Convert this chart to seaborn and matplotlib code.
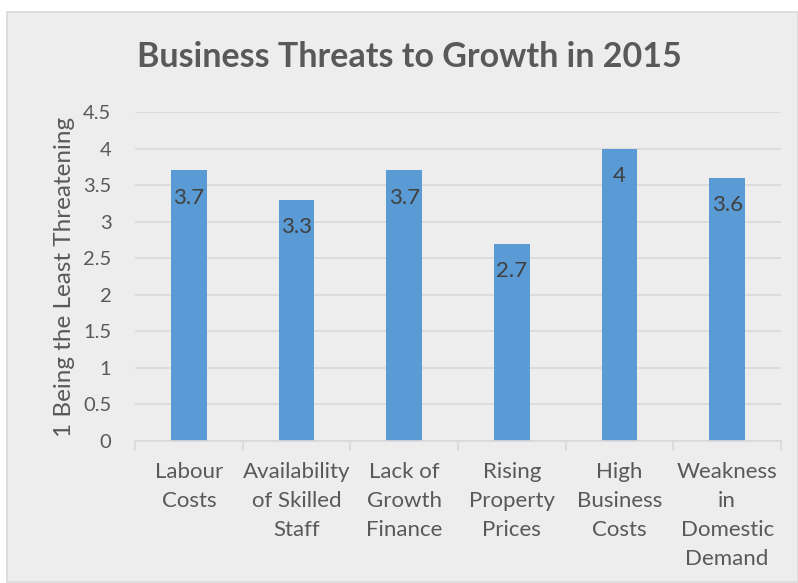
import matplotlib
matplotlib.use("Agg")
import matplotlib.pyplot as plt
from matplotlib.patches import Rectangle
from matplotlib.ticker import FixedLocator, MultipleLocator
import seaborn as sns
import pandas as pd

categories = [
    "Labour\nCosts",
    "Availability\nof Skilled\nStaff",
    "Lack of\nGrowth\nFinance",
    "Rising\nProperty\nPrices",
    "High\nBusiness\nCosts",
    "Weakness\nin\nDomestic\nDemand",
]
scores = [3.7, 3.3, 3.7, 2.7, 4.0, 3.6]
score_labels = ["3.7", "3.3", "3.7", "2.7", "4", "3.6"]

title = "Business Threats to Growth in 2015"
y_label = "1 Being the Least Threatening"

BAR = "#5B9BD5"
PANEL = "#EDEDED"
GRID = "#D9D9D9"
TEXT = "#595959"

sns.set_theme(style="white")
plt.rcParams["font.family"] = ["Lato", "DejaVu Sans"]

fig = plt.figure(figsize=(7.98, 5.83), dpi=100)
fig.patch.set_facecolor("white")

# chart panel with a thin light border
W, H = 798, 583
fig.patches.append(Rectangle((7 / W, 1 / H), (W - 7) / W, (H - 12 - 1) / H,
                             transform=fig.transFigure, facecolor=PANEL,
                             edgecolor=GRID, linewidth=1.2, zorder=-5))

ax = fig.add_axes([135 / W, 1 - 441 / H, (781 - 135) / W, (441 - 112) / H])
ax.set_zorder(2)
ax.set_facecolor("none")

df = pd.DataFrame({"category": categories, "score": scores})
sns.barplot(data=df, x="category", y="score", color=BAR, saturation=1,
            width=0.33, linewidth=0, ax=ax, zorder=3)

ax.set_ylim(0, 4.5)
ax.set_xlim(-0.5, len(categories) - 0.5)
ax.yaxis.set_major_locator(MultipleLocator(0.5))
ax.set_yticklabels([f"{t:g}" for t in ax.get_yticks()])
ax.grid(axis="y", color=GRID, linewidth=1.2, zorder=0)
ax.set_axisbelow(True)

for s in ["top", "right", "left"]:
    ax.spines[s].set_visible(False)
ax.spines["bottom"].set_color(GRID)
ax.spines["bottom"].set_linewidth(1.2)
ax.spines["bottom"].set_zorder(4)

ax.tick_params(axis="y", length=0, pad=17, labelsize=14.5, labelcolor=TEXT)
ax.tick_params(axis="x", which="major", length=0, pad=15, labelsize=16,
               labelcolor=TEXT)
ax.xaxis.set_minor_locator(FixedLocator([i - 0.5 for i in range(len(categories) + 1)]))
ax.tick_params(axis="x", which="minor", length=7, width=1.2, color=GRID,
               bottom=True)
for lbl in ax.get_xticklabels():
    lbl.set_linespacing(1.56)
    lbl.set_verticalalignment("top")

ax.set_xlabel("")
ax.set_ylabel(y_label, fontsize=17.5, color=TEXT)
ax.yaxis.set_label_coords(-0.093, 0.5)

for i, (v, s) in enumerate(zip(scores, score_labels)):
    ax.annotate(s, (i, v), xytext=(0, -19.5), textcoords="offset points",
                ha="center", va="center", fontsize=16, color="#404040",
                zorder=5)

fig.text(409 / W, 1 - 57 / H, title, ha="center", va="center",
         fontsize=24.5, fontweight="bold", color=TEXT)

fig.savefig("out.png", dpi=100)
